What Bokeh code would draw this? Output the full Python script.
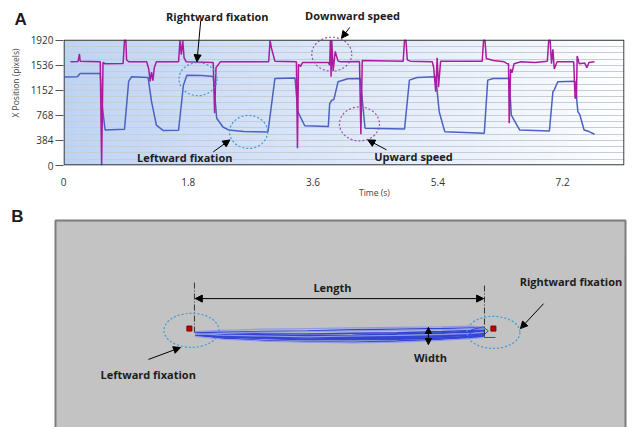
import numpy as np
from bokeh.plotting import figure
from bokeh.models import Range1d, FixedTicker, Label, Arrow, NormalHead
from bokeh.embed import file_html
from bokeh.resources import INLINE

# ---------------- Panel A data ----------------
pos_t = [0.02, 0.20, 0.24, 0.53, 0.56, 0.60, 0.88, 0.94, 0.98, 1.22, 1.27, 1.34, 1.44, 1.66, 1.73,
         1.78, 2.00, 2.16, 2.21, 2.30, 2.38, 2.60, 2.95, 3.05, 3.34, 3.38, 3.48, 3.82, 3.84, 3.87,
         3.90, 3.96, 4.10, 4.28, 4.32, 4.35, 4.92, 4.99, 5.10, 5.37, 5.42, 5.50, 6.07, 6.12, 6.20,
         6.43, 6.46, 6.58, 7.01, 7.06, 7.08, 7.13, 7.38, 7.42, 7.45, 7.51, 7.58, 7.66]
pos_v = [1355, 1360, 1411, 1411, 900, 545, 555, 1290, 1360, 1350, 980, 620, 535, 540, 1230,
         1385, 1380, 1365, 724, 590, 545, 520, 515, 1335, 1340, 825, 610, 596, 950, 1000,
         1010, 1283, 1330, 1335, 900, 571, 560, 1309, 1350, 1359, 825, 519, 494, 1309, 1335,
         1334, 774, 545, 530, 1130, 1160, 1283, 1290, 825, 775, 545, 520, 479]

spd_t = [0.10, 0.21, 0.23, 0.24, 0.53, 0.55, 0.57, 0.60, 0.86, 0.88, 0.90, 0.91, 0.94, 1.20, 1.23,
         1.25, 1.27, 1.29, 1.31, 1.34, 1.66, 1.68, 1.70, 1.72, 1.74, 1.77, 2.16, 2.18, 2.20, 2.23,
         2.26, 2.96, 2.98, 3.00, 3.05, 3.36, 3.375, 3.39, 3.42, 3.45, 3.82, 3.84, 3.85, 3.86, 3.87,
         3.89, 3.92, 3.96, 4.00, 4.27, 4.29, 4.31, 4.90, 4.92, 4.94, 4.96, 5.00, 5.32, 5.34, 5.37,
         5.39, 5.41, 5.44, 6.04, 6.06, 6.08, 6.10, 6.20, 6.36, 6.40, 6.42, 6.43, 6.45, 6.47, 6.50,
         6.60, 6.80, 6.98, 7.00, 7.02, 7.04, 7.06, 7.08, 7.12, 7.36, 7.38, 7.40, 7.41, 7.44, 7.52,
         7.55, 7.58, 7.66]
spd_v = [1590, 1595, 1710, 1600, 1590, 0, 1580, 1560, 1565, 1920, 1920, 1620, 1590, 1590, 1480,
         1290, 1430, 1300, 1500, 1590, 1590, 1920, 1700, 1920, 1650, 1590, 1580, 800, 1500, 1540,
         1590, 1590, 1920, 1800, 1600, 1590, 265, 1550, 1520, 1580, 1580, 1540, 1920, 1360, 1920,
         1450, 1750, 1600, 1590, 1595, 480, 1610, 1600, 1920, 1920, 1620, 1600, 1590, 1500, 1130,
         1650, 1200, 1600, 1600, 1920, 1920, 1640, 1610, 1590, 1560, 1560, 647, 1480, 1420, 1560,
         1590, 1580, 1600, 1920, 1920, 1560, 1780, 1480, 1590, 1590, 1030, 1040, 1680, 1560, 1570,
         1500, 1580, 1590]

y_ticks = [0, 384, 768, 1152, 1536, 1920]
y_minor = list(range(0, 1921, 96))
x_ticks = [0, 1.8, 3.6, 5.4, 7.2]
x_tick_labels = ["0", "1.8", "3.6", "5.4", "7.2"]
T_MAX = 8.093
V_MAX = 1920

FONT = "Open Sans"
TXT = "#1c1c1c"

# layout geometry (pixels)
A_H = 188
BOX_TOP = 40      # plot box top (px)
BOX_BOT = 166     # plot box bottom (px)
FRAME_W = 562
Y_END = V_MAX * BOX_BOT / (BOX_BOT - BOX_TOP)   # frame extends up to canvas top

pA = figure(width=636, height=A_H, x_range=Range1d(0, T_MAX), y_range=Range1d(0, Y_END),
            output_backend="svg", toolbar_location=None,
            min_border_left=63, min_border_right=11, min_border_top=0,
            min_border_bottom=A_H - BOX_BOT)
pA.outline_line_color = None

# gradient background (styling)
n = 90
edges = np.linspace(0, T_MAX, n + 1)
c0 = np.array([190, 211, 244])
c1 = np.array([253, 254, 255])
cols = []
for i in range(n):
    f = ((i + 0.5) / n)
    c = c0 + (c1 - c0) * f
    cols.append("#%02x%02x%02x" % tuple(int(round(x)) for x in c))
bg = pA.quad(left=edges[:-1], right=edges[1:] + T_MAX / n * 0.3, bottom=0, top=V_MAX,
             fill_color=cols, line_color=None)
bg.level = "image"

pA.line(pos_t, pos_v, line_color="#4a62c2", line_width=1.5)
pA.line(spd_t, spd_v, line_color="#ac1a9e", line_width=1.5)

# plot box border
px_t = T_MAX / FRAME_W
px_v = V_MAX / (BOX_BOT - BOX_TOP)
pA.quad(left=0.6 * px_t, right=T_MAX - 0.6 * px_t, bottom=0.6 * px_v, top=V_MAX,
        fill_color=None, line_color="#3a3a3a", line_width=1.2)

pA.yaxis.ticker = FixedTicker(ticks=y_ticks, minor_ticks=y_minor)
pA.xaxis.ticker = FixedTicker(ticks=x_ticks)
pA.xaxis.major_label_overrides = {t: s for t, s in zip(x_ticks, x_tick_labels)}
pA.xgrid.visible = False
pA.ygrid.grid_line_color = "#c8ccd3"
pA.ygrid.minor_grid_line_color = "#c8ccd3"
pA.ygrid.bounds = (0, V_MAX)
for ax in (pA.xaxis[0], pA.yaxis[0]):
    ax.axis_line_color = None
    ax.minor_tick_line_color = None
    ax.major_label_text_font = FONT
    ax.major_label_text_font_size = "10px"
    ax.major_label_text_color = "#333333"
pA.xaxis.major_tick_line_color = None
pA.xaxis.major_label_standoff = 6
pA.yaxis.major_tick_out = 8
pA.yaxis.major_tick_in = 0
pA.yaxis.major_tick_line_color = "#555555"
pA.yaxis.major_label_standoff = 2
pA.yaxis.axis_label = "X Position (pixels)"
pA.yaxis.axis_label_text_font = FONT
pA.yaxis.axis_label_text_font_size = "8.5px"
pA.yaxis.axis_label_text_font_style = "normal"
pA.yaxis.axis_label_text_color = "#444444"
pA.yaxis.axis_label_standoff = 7

# circles around features
pA.ellipse(x=[1.94, 2.67], y=[1324, 515], width=38, height=33, width_units="screen",
           height_units="screen", fill_color=None, line_color="#3b9ad8", line_dash="2 2", line_width=1.2)
pA.ellipse(x=[3.87, 4.27], y=[1706, 637], width=40, height=34, width_units="screen",
           height_units="screen", fill_color=None, line_color="#9a52b4", line_dash="2 2", line_width=1.2)


def mk_label(x, y, text, size="11px", style="bold", color=TXT, font=FONT):
    return Label(x=x, y=y, text=text, text_font=font, text_font_size=size,
                 text_font_style=style, text_color=color, text_align="center",
                 text_baseline="middle")


def arr(p, x0, y0, x1, y1, both=False, size=7):
    kw = {}
    if both:
        kw["start"] = NormalHead(size=size, fill_color="black", line_color="black")
    p.add_layout(Arrow(x_start=x0, y_start=y0, x_end=x1, y_end=y1, line_color="black", line_width=1,
                       end=NormalHead(size=size, fill_color="black", line_color="black"), **kw))


# panel letter lives in a side panel so that it is not clipped by the frame
pA.add_layout(mk_label(-0.62, 2240, "A", size="17px", font="Liberation Sans"), "right")
pA.add_layout(mk_label(2.24, 2286, "Rightward  fixation"))
pA.add_layout(mk_label(1.77, 118, "Leftward  fixation"))
pA.add_layout(mk_label(4.19, 2301, "Downward  speed"))
pA.add_layout(mk_label(5.07, 133, "Upward  speed"))
arr(pA, 1.98, 2225, 1.925, 1590)
arr(pA, 2.16, 209, 2.40, 392)
arr(pA, 4.13, 2118, 4.01, 1950)
arr(pA, 4.66, 240, 4.39, 392)

# ---------------- Panel B data (screen pixels of the tracked display) ----------------
fix_x = [451, 1475]
fix_y = [364, 364]
sweep_x = [470, 560, 700, 850, 1000, 1150, 1300, 1400, 1445]
dark_sweeps = [
    [380, 384, 388, 390, 392, 390, 386, 382, 376],
    [384, 390, 396, 400, 402, 400, 396, 390, 384],
    [378, 380, 382, 382, 380, 378, 374, 370, 368],
    [386, 396, 404, 408, 410, 406, 400, 394, 388],
    [382, 386, 390, 394, 396, 394, 390, 384, 378],
    [376, 376, 374, 372, 368, 366, 364, 362, 362],
    [388, 392, 394, 396, 398, 398, 396, 394, 392],
    [380, 388, 392, 386, 388, 384, 380, 376, 372],
    [383, 392, 398, 402, 400, 397, 392, 386, 380],
    [379, 382, 385, 388, 386, 382, 378, 374, 370],
    [385, 390, 392, 390, 394, 392, 388, 380, 374],
]
light_sweeps = [
    [374, 370, 366, 364, 362, 360, 358, 356, 360],
    [390, 400, 406, 410, 412, 410, 404, 398, 394],
    [384, 380, 376, 374, 372, 370, 368, 364, 366],
    [381, 386, 389, 392, 389, 387, 384, 380, 376],
]
loop_x = [1380, 1410, 1440, 1458, 1440, 1410, 1395, 1420, 1445, 1445, 1482]
loop_y = [376, 366, 358, 372, 388, 390, 380, 370, 372, 394, 394]
guide_x = [468, 1445]
guide_top = [209, 219]
guide_bot = [381, 394]
SCREEN_W = 1920

B_H = 427 - A_H
SCALE = SCREEN_W / 570.0          # display px per canvas px
BOX_LEFT = 55
BOX_TOP_B = 220 - A_H             # box top inside panel B canvas
pB = figure(width=636, height=B_H,
            x_range=Range1d(-BOX_LEFT * SCALE, (636 - BOX_LEFT) * SCALE),
            y_range=Range1d((B_H - BOX_TOP_B) * SCALE, -BOX_TOP_B * SCALE),
            output_backend="svg", toolbar_location=None,
            min_border_left=0, min_border_right=0, min_border_top=0, min_border_bottom=0)
pB.axis.visible = False
pB.grid.visible = False
pB.outline_line_color = None
pB.quad(left=0, right=SCREEN_W, top=0, bottom=(B_H - BOX_TOP_B + 10) * SCALE,
        fill_color="#c3c3c3", line_color="#7c7c7c", line_width=2)

pB.multi_line([sweep_x] * len(dark_sweeps), dark_sweeps, line_color="#3445d4", line_width=1.4)
pB.multi_line([sweep_x] * len(light_sweeps), light_sweeps, line_color="#8f9be6", line_width=1.2)
pB.line(loop_x, loop_y, line_color="#3445d4", line_width=1)
for gx, gt, gb in zip(guide_x, guide_top, guide_bot):
    pB.line([gx, gx], [gt, gb], line_color="#333333", line_dash="6 2 1 2", line_width=1)
pB.scatter(fix_x, fix_y, size=5, marker="square", fill_color="#c00000", line_color="#800000")
pB.ellipse(x=[458, 1475], y=[370, 377], width=[55, 53], height=[34, 32], width_units="screen",
           height_units="screen", fill_color=None, line_color="#3b9ad8", line_dash="2 2", line_width=1.2)

arr(pB, 471, 263, 1442, 263, both=True)
arr(pB, 1256, 360, 1256, 418, both=True, size=6)
arr(pB, 1644, 280, 1566, 364)
arr(pB, 313, 468, 421, 428)
pB.add_layout(mk_label(1074, -94, "Time (s)", size="8.5px", style="normal", color="#444444"))
pB.add_layout(mk_label(-128, -13, "B", size="17px", font="Liberation Sans"))
pB.add_layout(mk_label(933, 226, "Length"))
pB.add_layout(mk_label(1263, 461, "Width"))
pB.add_layout(mk_label(1741, 205, "Rightward  fixation"))
pB.add_layout(mk_label(317, 519, "Leftward  fixation"))

open("out.html", "w").write(file_html([pA, pB], INLINE))
